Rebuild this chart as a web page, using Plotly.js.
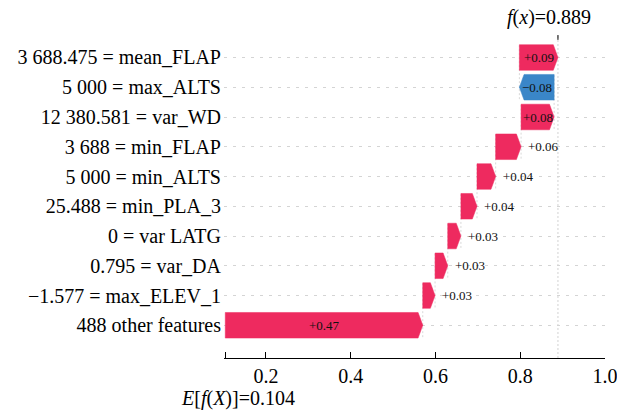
<!DOCTYPE html>
<html>
<head>
<meta charset="utf-8">
<script src="https://cdn.plot.ly/plotly-3.0.1.min.js"></script>
<style>
html,body{margin:0;padding:0;background:#fff;}
#chart{width:617px;height:412px;}
</style>
</head>
<body>
<div id="chart"></div>
<script>
// ---- data ----
const features = ["3 688.475 = mean_FLAP", "5 000 = max_ALTS", "12 380.581 = var_WD", "3 688 = min_FLAP",
  "5 000 = min_ALTS", "25.488 = min_PLA_3", "0 = var LATG", "0.795 = var_DA", "\u22121.577 = max_ELEV_1", "488 other features"];
const shapValues = [0.091, -0.082, 0.078, 0.060, 0.044, 0.038, 0.031, 0.030, 0.029, 0.466];
const baseValue = 0.104;
const fxValue = 0.889;
const xTickValues = [0.2, 0.4, 0.6, 0.8, 1.0];
const xTickLabels = ["0.2", "0.4", "0.6", "0.8", "1.0"];

// ---- styling ----
const RED = "#ee2a5f", BLUE = "#3a86c8";
const FONT = "Liberation Serif";
const n = features.length;
const half = 0.43;       // half bar height (row units)
const headLen = 0.011;   // arrow head length (x units)
const pxPerUnit = 423;

const traces = [];
const annotations = [];
const shapes = [];

let cum = baseValue;
const starts = new Array(n), ends = new Array(n);
for (let i = n - 1; i >= 0; i--) {
  starts[i] = cum;
  cum += shapValues[i];
  ends[i] = cum;
}
const yOf = i => n - 1 - i;

function fmt(v) {
  return (v >= 0 ? "+" : "\u2212") + Math.abs(v).toFixed(2);
}

for (let i = 0; i < n - 1; i++) {
  const y = yOf(i + 1);
  traces.push({
    x: [ends[i + 1], ends[i + 1]], y: [y - 0.4, y + 1.4], mode: "lines",
    line: {color: "#cfcfcf", width: 0.8, dash: "2px,2px"}, hoverinfo: "skip", showlegend: false
  });
}

for (let i = 0; i < n; i++) {
  const x0 = starts[i], x1 = ends[i], v = shapValues[i], y = yOf(i);
  const hl = Math.min(headLen, Math.abs(v));
  const s = v >= 0 ? 1 : -1;
  const xb = x1 - s * hl;
  traces.push({
    x: [x0, xb, x1, xb, x0, x0],
    y: [y - half, y - half, y, y + half, y + half, y - half],
    mode: "lines", fill: "toself", fillcolor: v >= 0 ? RED : BLUE,
    line: {color: v >= 0 ? RED : BLUE, width: 0.5}, hoverinfo: "skip", showlegend: false
  });
  const widthPx = Math.abs(v) * pxPerUnit;
  if (widthPx > 30) {
    annotations.push({x: (x0 + x1) / 2, y: y, xref: "x", yref: "y", text: fmt(v), showarrow: false,
      font: {family: FONT, size: 13, color: "#111"}, xanchor: "center", yanchor: "middle"});
  } else {
    annotations.push({x: Math.max(x0, x1), y: y, xref: "x", yref: "y", text: fmt(v), showarrow: false,
      font: {family: FONT, size: 13, color: "#111"}, xanchor: "left", yanchor: "middle", xshift: 5});
  }
}

shapes.push({type: "line", xref: "x", yref: "paper", x0: fxValue, x1: fxValue, y0: 0, y1: 1,
  line: {color: "#c8c8c8", width: 0.8, dash: "2px,2px"}, layer: "below"});
shapes.push({type: "line", xref: "x", yref: "paper", x0: fxValue, x1: fxValue, y0: 1, y1: 0.985,
  line: {color: "#000", width: 1}});

annotations.push({x: fxValue, y: 1, xref: "x", yref: "paper", xanchor: "left", yanchor: "bottom",
  xshift: -53, yshift: 4, showarrow: false,
  text: "<i>f</i>(<i>x</i>)=" + fxValue.toFixed(3), font: {family: FONT, size: 20, color: "#000"}});
annotations.push({x: baseValue, y: 0, xref: "x", yref: "paper", xanchor: "left", yanchor: "top",
  xshift: -46, yshift: -27, showarrow: false,
  text: "<i>E</i>[<i>f</i>(<i>X</i>)]=" + baseValue.toFixed(3), font: {family: FONT, size: 20, color: "#000"}});

const layout = {
  width: 617, height: 412,
  margin: {l: 224, r: 12, t: 35, b: 54},
  paper_bgcolor: "#fff", plot_bgcolor: "#fff",
  showlegend: false,
  xaxis: {
    range: [0.101, 1.0], tickvals: [baseValue].concat(xTickValues), ticktext: [""].concat(xTickLabels),
    ticks: "inside", ticklen: 6, tickwidth: 1, tickcolor: "#000", ticklabeloverflow: "allow",
    showline: true, linecolor: "#000", linewidth: 1, showgrid: false, zeroline: false,
    tickfont: {family: FONT, size: 20, color: "#000"}
  },
  yaxis: {
    range: [-1.10, 9.756], tickvals: features.map((f, i) => yOf(i)), ticktext: features,
    ticks: "", showline: false, zeroline: false,
    showgrid: true, gridcolor: "#d4d4d4", gridwidth: 0.8, griddash: "3px,6px",
    tickfont: {family: FONT, size: 20, color: "#000"}, ticklabelstandoff: 2
  },
  shapes: shapes,
  annotations: annotations
};

Plotly.newPlot("chart", traces, layout, {displayModeBar: false});
</script>
</body>
</html>
